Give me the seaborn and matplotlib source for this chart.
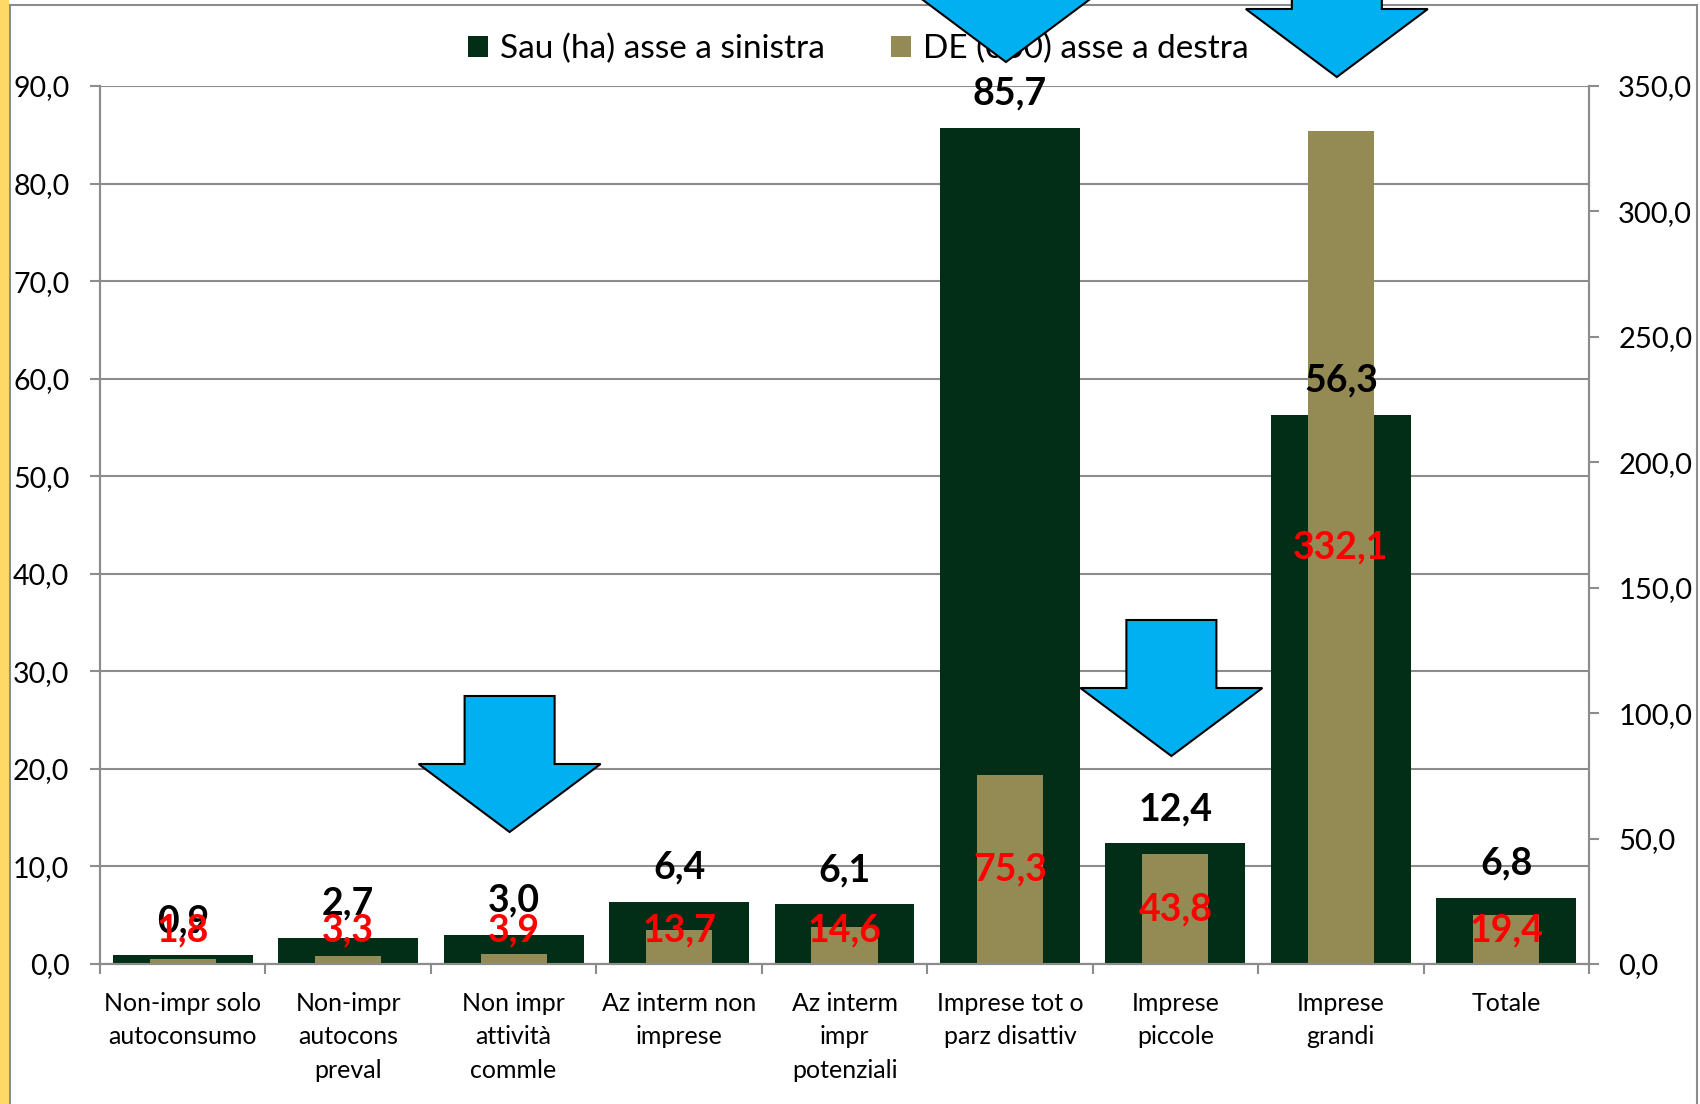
import matplotlib
matplotlib.use("Agg")
import matplotlib.pyplot as plt
import seaborn as sns
import pandas as pd
from matplotlib.patches import Patch, Polygon, Rectangle
from matplotlib.ticker import FuncFormatter, FixedLocator

categories = ["Non-impr solo\nautoconsumo", "Non-impr\nautocons\npreval", "Non impr\nattività\ncommle",
              "Az interm non\nimprese", "Az interm\nimpr\npotenziali", "Imprese tot o\nparz disattiv",
              "Imprese\npiccole", "Imprese\ngrandi", "Totale"]
sau = [0.9, 2.7, 3.0, 6.4, 6.1, 85.7, 12.4, 56.3, 6.8]
de = [1.8, 3.3, 3.9, 13.7, 14.6, 75.3, 43.8, 332.1, 19.4]
legend_labels = ["Sau (ha) asse a sinistra", "DE (000) asse a destra"]
arrow_cats = [2, 6, 5, 7]

W, H = 1700, 1104
DARK = "#022E17"
OLIVE = "#948A54"
GRID = "#8C8C8C"
FONT = ["Lato", "DejaVu Sans"]

plt.rcParams["font.family"] = FONT
fig = plt.figure(figsize=(W / 100, H / 100), dpi=100, facecolor="white")
ax = fig.add_axes([100 / W, 1 - 964 / H, (1589 - 100) / W, (964 - 86) / H])
ax2 = ax.twinx()

df = pd.DataFrame({"cat": categories, "sau": sau, "de": de})
sns.barplot(data=df, x="cat", y="sau", ax=ax, color=DARK, width=0.845, saturation=1, order=categories)
sns.barplot(data=df, x="cat", y="de", ax=ax2, color=OLIVE, width=0.40, saturation=1, order=categories)

ax.set_xlim(-0.5, len(categories) - 0.5)
ax.set_ylim(0, 90)
ax2.set_ylim(0, 350)
ax.set_xlabel("")
ax.set_ylabel("")
ax2.set_ylabel("")

fmt = FuncFormatter(lambda v, p: f"{v:.1f}".replace(".", ","))
ax.yaxis.set_major_locator(FixedLocator(list(range(0, 91, 10))))
ax2.yaxis.set_major_locator(FixedLocator(list(range(0, 351, 50))))
ax.yaxis.set_major_formatter(fmt)
ax2.yaxis.set_major_formatter(fmt)

ax.set_axisbelow(True)
ax.grid(axis="y", color=GRID, lw=1.5)
ax.grid(axis="x", visible=False)
ax2.grid(False)

for a in (ax, ax2):
    for s in a.spines.values():
        s.set_color(GRID)
        s.set_linewidth(1.5)
    a.spines["top"].set_visible(False)

ax.tick_params(axis="y", length=7, width=1.5, color=GRID, labelsize=20.5, pad=15, direction="out")
ax2.tick_params(axis="y", length=7, width=1.5, color=GRID, labelsize=21, pad=14, direction="out")
ax.set_xticks(range(len(categories)))
ax.set_xticklabels(categories, fontsize=18, va="top")
for t in ax.get_xticklabels():
    t.set_linespacing(1.55)
ax.tick_params(axis="x", which="major", length=0, pad=20)
ax.set_xticks([i - 0.5 for i in range(len(categories) + 1)], minor=True)
ax.tick_params(axis="x", which="minor", length=7, width=1.5, color=GRID, direction="out")

# value labels
for i, v in enumerate(sau):
    ax2.annotate(f"{v:.1f}".replace(".", ","), xy=(i, v), xycoords=ax.transData,
                 xytext=(0, 24.5), textcoords="offset points", ha="center", va="center",
                 fontsize=27, fontweight="bold", color="black", zorder=5)
for i, v in enumerate(de):
    ax2.text(i, max(v / 2, 13.4), f"{v:.1f}".replace(".", ","), ha="center", va="center",
             fontsize=27, fontweight="bold", color="#FF0000", zorder=5)

# legend
handles = [Patch(facecolor=DARK, edgecolor="none"), Patch(facecolor=OLIVE, edgecolor="none")]
fig.legend(handles, legend_labels, loc="center", bbox_to_anchor=(0.505, 1 - 49 / H), ncol=2,
           frameon=False, fontsize=24, handlelength=0.6, handleheight=0.6,
           handletextpad=0.35, columnspacing=2.0)

# frame and left strip
fig.patches.append(Rectangle((0, 0), 9 / W, 1, transform=fig.transFigure, facecolor="#FFD966",
                             edgecolor="none", zorder=0))
fig.lines.append(plt.Line2D([9.5 / W, 9.5 / W], [0, 1 - 5 / H], transform=fig.transFigure, color=GRID, lw=1.5))
fig.lines.append(plt.Line2D([9.5 / W, 1697 / W], [1 - 5 / H, 1 - 5 / H], transform=fig.transFigure, color=GRID, lw=1.5))
fig.lines.append(plt.Line2D([1697 / W, 1697 / W], [0, 1 - 5 / H], transform=fig.transFigure, color=GRID, lw=1.5))

# decorative arrows (pixel layout, x centred on categories)
arrow_tips = [832, 756, 62, 77]
def arrow(cx_px, tip_px):
    wing = tip_px - 68
    top = wing - 68
    pts = [(cx_px - 45, top), (cx_px + 45, top), (cx_px + 45, wing), (cx_px + 91, wing),
           (cx_px, tip_px), (cx_px - 91, wing), (cx_px - 45, wing)]
    return [(x / W, 1 - y / H) for x, y in pts]

fig.canvas.draw()
for c, tip in zip(arrow_cats, arrow_tips):
    cx = ax.transData.transform((c, 0))[0]
    p = Polygon(arrow(cx - 4, tip), closed=True, transform=fig.transFigure, facecolor="#00B0F0",
                edgecolor="black", lw=1.5, zorder=10)
    fig.patches.append(p)

fig.savefig("out.png", dpi=100, facecolor="white")
